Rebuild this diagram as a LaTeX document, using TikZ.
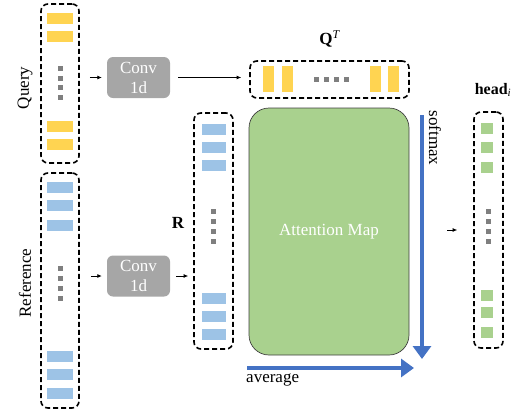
\documentclass[tikz,border=0pt]{standalone}
\usepackage{fontspec}
\setmainfont{Liberation Serif}
\usetikzlibrary{positioning,arrows.meta}

\definecolor{qyellow}{HTML}{FFD451}
\definecolor{rblue}{HTML}{9DC3E6}
\definecolor{mgreen}{HTML}{A9D18E}
\definecolor{cgray}{HTML}{A6A6A6}
\definecolor{dgray}{HTML}{7F7F7F}
\definecolor{abblue}{HTML}{4472C4}

\begin{document}
\begin{tikzpicture}[x=1pt, y=-1pt,
	font=\fontsize{17}{20}\selectfont,
	dbox/.style={rectangle, draw=black, line width=1.6pt, dash pattern=on 5pt off 3pt, rounded corners=7pt, inner sep=0pt},
	conv/.style={rectangle, rounded corners=6pt, fill=cgray, text=white, align=center, text centered, minimum width=63pt, minimum height=41pt, inner sep=0pt},
	attn/.style={rectangle, rounded corners=20pt, draw=black!75, line width=0.7pt, fill=mgreen, text=white, minimum width=160pt, minimum height=247pt},
	arr/.style={-{Latex[length=4.5pt,width=4pt]}, line width=0.8pt},
	bigarr/.style={-{Triangle[length=13pt,width=18pt]}, line width=4pt, draw=abblue},
	dot/.style={fill=dgray}
	]
	\useasboundingbox (0,0) rectangle (527,410);

	% input sequences
	\node (query) [dbox, minimum width=38pt, minimum height=159pt] at (60,83.5) {};
	\node (ref) [dbox, minimum width=38pt, minimum height=235pt] at (60,290.5) {};
	\node (querytxt) [rotate=90] at (25,88) {Query};
	\node (reftxt) [rotate=90] at (25,283) {Reference};

	\foreach \y in {13,31,121,139}
		\fill [qyellow] (47,\y) rectangle ++(26,11);
	\foreach \y in {182,200,220,351,369,388}
		\fill [rblue] (47,\y) rectangle ++(26,11);
	\foreach \y in {66,76,85,95}
		\fill [dot] (58,\y) rectangle ++(5,5);
	\foreach \y in {266,276,286,296}
		\fill [dot] (58,\y) rectangle ++(5,5);

	% convolutions
	\node (conv1) [conv] at (138.5,77.5) {Conv\\ 1d};
	\node (conv2) [conv] at (138.5,276) {Conv\\ 1d};

	% projected sequences
	\node (qt) [dbox, minimum width=159pt, minimum height=37pt] at (329.5,79.5) {};
	\node (qtlabel) [above=9pt of qt, font=\fontsize{17}{20}\selectfont\bfseries] {Q\textsuperscript{\mdseries\itshape T}};
	\foreach \x in {263,282,370,388}
		\fill [qyellow] (\x,66) rectangle ++(11,26);
	\foreach \x in {314,324,334,344}
		\fill [dot] (\x,77) rectangle ++(5,5);

	\node (rbox) [dbox, minimum width=39pt, minimum height=236pt] at (213.5,231) {};
	\node (rlabel) [font=\fontsize{17}{20}\selectfont\bfseries] at (178,223) {R};
	\foreach \y in {124,142,160,293,311,329}
		\fill [rblue] (202,\y) rectangle ++(24,11);
	\foreach \y in {209,219,229,239}
		\fill [dot] (211,\y) rectangle ++(5,5);

	% attention
	\node (att) [attn] at (329,231.5) {Attention Map};
	\coordinate (smtop) at (422,115);
	\coordinate (smend) at (422,359);
	\coordinate (avstart) at (247,368);
	\coordinate (avend) at (414,368);
	\node (smtxt) [rotate=-90] at (435,138) {softmax};
	\node (avtxt) [anchor=west, inner sep=0pt] at (246,380) {average};

	% output head
	\node (head) [dbox, minimum width=29pt, minimum height=236pt] at (488.5,230) {};
	\node (headlabel) [font=\fontsize{16}{20}\selectfont\bfseries] at (493,90) {head\textsubscript{\mdseries\itshape i}};
	\foreach \y in {123,142,162,290,307,327}
		\fill [mgreen] (481,\y) rectangle ++(12,11);
	\foreach \y in {209,219,229,239}
		\fill [dot] (486,\y) rectangle ++(5,5);

	% connectors
	\draw [arr, shorten <=10pt, shorten >=5pt] (query.east |- conv1.west) -- (conv1.west);
	\draw [arr, shorten <=8pt, shorten >=8pt] (conv1.east) -- (qt.west |- conv1.east);
	\draw [arr, shorten <=11pt, shorten >=5pt] (ref.east |- conv2.west) -- (conv2.west);
	\draw [arr, shorten <=6pt, shorten >=5pt] (conv2.east) -- (rbox.west |- conv2.east);
	\draw [arr, shorten <=38pt, shorten >=16pt] (att.east |- head.west) -- (head.west);
	\draw [bigarr] (smtop) -- (smend);
	\draw [bigarr] (avstart) -- (avend);

\end{tikzpicture}
\end{document}
